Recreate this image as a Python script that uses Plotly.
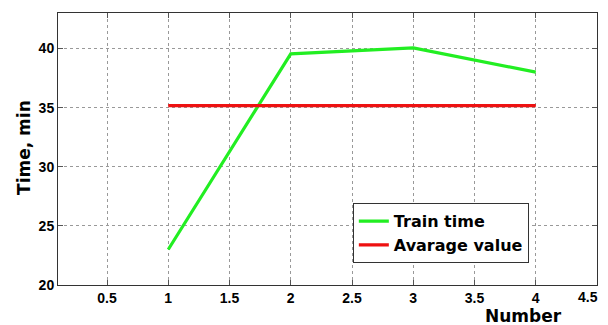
import plotly.graph_objects as go

numbers = [1, 2, 3, 4]
train_time = [23.0, 39.55, 40.05, 38.0]
average_value = [35.17, 35.17, 35.17, 35.17]
x_ticks = [0.5, 1, 1.5, 2, 2.5, 3, 3.5, 4, 4.5]
x_tick_labels = ["0.5", "1", "1.5", "2", "2.5", "3", "3.5", "4", "4.5"]
y_ticks = [20, 25, 30, 35, 40]
y_tick_labels = ["20", "25", "30", "35", "40"]

font_family = "Liberation Sans, Arial, sans-serif"
wide_family = "DejaVu Sans, Liberation Sans, sans-serif"

fig = go.Figure()
fig.add_trace(go.Scatter(x=numbers, y=train_time, mode="lines", name="<b>Train time</b>",
                         line=dict(color="#22ee22", width=3.2)))
fig.add_trace(go.Scatter(x=numbers, y=average_value, mode="lines", name="<b>Avarage value</b>",
                         line=dict(color="#ee1111", width=3.2)))

axis_common = dict(
    showline=True, linecolor="#333333", linewidth=1, mirror="ticks",
    ticks="inside", ticklen=5, tickcolor="#555555",
    showgrid=True, gridcolor="#999999", griddash="dot", gridwidth=1,
    zeroline=False, ticklabeloverflow="allow",
    tickfont=dict(family=font_family, size=14, color="black"),
)

# the last x tick label sits at the visible page edge: draw it as a right-anchored annotation
x_text = ["<b>%s</b>" % t for t in x_tick_labels[:-1]] + [""]
fig.update_xaxes(range=[0.1, 4.5], tickvals=x_ticks, ticktext=x_text, **axis_common)
fig.update_yaxes(range=[20, 43], tickvals=y_ticks,
                 ticktext=["<b>%s</b>" % t for t in y_tick_labels], **axis_common)

fig.add_annotation(text="<b>%s</b>" % x_tick_labels[-1], xref="paper", yref="paper",
                   x=1.0056, y=-0.045, xanchor="right", yanchor="middle", showarrow=False,
                   font=dict(family=font_family, size=14, color="black"))

fig.add_annotation(text="<b>Number</b>", xref="paper", yref="paper", x=0.863, y=-0.113,
                   xanchor="center", yanchor="middle", showarrow=False,
                   font=dict(family=wide_family, size=17, color="black"))
fig.add_annotation(text="<b>Time, min</b>", xref="paper", yref="paper", x=-0.063, y=0.504,
                   xanchor="center", yanchor="middle", textangle=-90, showarrow=False,
                   font=dict(family=wide_family, size=17, color="black"))

# page body has an 8px margin; figure size/margins compensate for it
fig.update_layout(
    width=600, height=317,
    margin=dict(l=50, r=11, t=5, b=40, autoexpand=False),
    paper_bgcolor="white", plot_bgcolor="white",
    showlegend=True,
    legend=dict(x=0.547, y=0.301, xanchor="left", yanchor="top",
                bgcolor="white", bordercolor="#333333", borderwidth=1,
                font=dict(family=wide_family, size=16, color="black"),
                tracegroupgap=0, itemwidth=30),
)

fig.write_html("out.html")
